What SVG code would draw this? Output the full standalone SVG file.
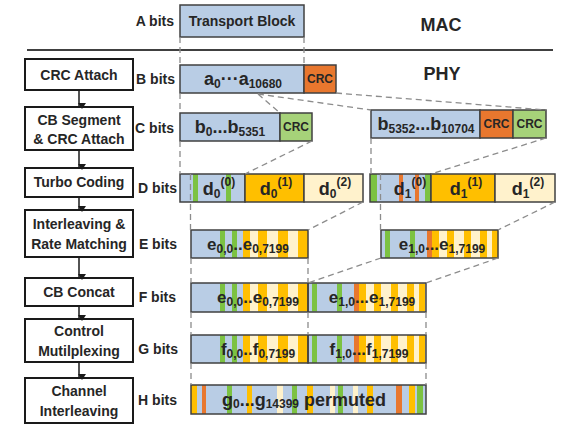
<svg xmlns="http://www.w3.org/2000/svg" xmlns:xlink="http://www.w3.org/1999/xlink" width="562" height="425" viewBox="0 0 562 425">
<style>
text{font-family:"Liberation Sans",Arial,sans-serif;font-weight:bold;fill:#262626}
.lbl{font-size:14px}
.step{font-size:14px;text-anchor:middle}
.big{font-size:18px;text-anchor:middle}
.mid{font-size:17px;text-anchor:middle}
.sub{font-size:12px}
.crc{font-size:12px;text-anchor:middle}
.box{fill:#fff;stroke:#1a1a1a;stroke-width:2}
.bar{stroke:#404040;stroke-width:1.5}
.blue{fill:#b9cde5}
.org{fill:#e8772e}
.grn{fill:#a6d279}
.gold{fill:#ffbf00}
.crm{fill:#fff2cc}
.sg{fill:#7cc242}
.so{fill:#e8772e}
.dash{stroke:#8c8c8c;stroke-width:1.3;stroke-dasharray:6 4;fill:none}
.arr{stroke:#1a1a1a;stroke-width:1.5;fill:none}
</style>
<defs>
<marker id="ah" markerWidth="8" markerHeight="8" refX="4" refY="7" orient="auto" markerUnits="userSpaceOnUse" viewBox="0 0 8 8">
<path d="M0,1 L8,1 L4,7 Z" fill="#1a1a1a" transform="rotate(-90 4 4)"/>
</marker>
<g id="eL">
<rect x="29" y="0" width="5" height="28" class="sg"/>
<rect x="41" y="0" width="5" height="28" class="sg"/>
<rect x="52" y="0" width="7" height="28" class="gold"/>
<rect x="59" y="0" width="8" height="28" class="crm"/>
<rect x="67" y="0" width="9" height="28" class="gold"/>
<rect x="76" y="0" width="11" height="28" class="crm"/>
<rect x="87" y="0" width="10" height="28" class="gold"/>
<rect x="97" y="0" width="10" height="28" class="crm"/>
<rect x="107" y="0" width="10" height="28" class="gold"/>
</g>
<g id="eR">
<rect x="4" y="0" width="5" height="28" class="sg"/>
<rect x="29" y="0" width="5" height="28" class="sg"/>
<rect x="46" y="0" width="5" height="28" class="so"/>
<rect x="51" y="0" width="7" height="28" class="gold"/>
<rect x="58" y="0" width="8" height="28" class="crm"/>
<rect x="66" y="0" width="7" height="28" class="gold"/>
<rect x="73" y="0" width="10" height="28" class="crm"/>
<rect x="83" y="0" width="7" height="28" class="gold"/>
<rect x="90" y="0" width="9" height="28" class="crm"/>
<rect x="99" y="0" width="7" height="28" class="gold"/>
<rect x="106" y="0" width="5" height="28" class="crm"/>
<rect x="111" y="0" width="6" height="28" class="gold"/>
</g>
</defs>
<rect width="562" height="425" fill="#fff"/>

<!-- MAC / PHY -->
<g id="layers">
<line x1="27" y1="50" x2="553" y2="50" stroke="#404040" stroke-width="2"/>
<text x="441" y="31" style="font-size:18px;text-anchor:middle">MAC</text>
<text x="442" y="80" style="font-size:18px;text-anchor:middle">PHY</text>
</g>

<!-- left process steps -->
<g id="step-crc-attach"><rect class="box" x="25" y="59" width="108" height="31"/><text class="step" x="79" y="80">CRC Attach</text></g>
<g id="step-cb-segment"><rect class="box" x="25" y="107" width="108" height="43"/><text class="step" x="79" y="125">CB Segment</text><text class="step" x="79" y="144">&amp; CRC Attach</text></g>
<g id="step-turbo"><rect class="box" x="25" y="168" width="108" height="29"/><text class="step" x="79" y="187">Turbo Coding</text></g>
<g id="step-interleave-rm"><rect class="box" x="25" y="210" width="108" height="47"/><text class="step" x="79" y="229">Interleaving &amp;</text><text class="step" x="79" y="249">Rate Matching</text></g>
<g id="step-cb-concat"><rect class="box" x="25" y="278" width="108" height="28"/><text class="step" x="79" y="297">CB Concat</text></g>
<g id="step-control-mux"><rect class="box" x="25" y="319" width="108" height="43"/><text class="step" x="79" y="336">Control</text><text class="step" x="79" y="356">Mutilplexing</text></g>
<g id="step-channel-interleave"><rect class="box" x="25" y="378" width="108" height="45"/><text class="step" x="79" y="396">Channel</text><text class="step" x="79" y="416">Interleaving</text></g>

<!-- row labels -->
<g id="row-labels">
<text class="lbl" x="174" y="26" text-anchor="end">A bits</text>
<text class="lbl" x="175" y="84" text-anchor="end">B bits</text>
<text class="lbl" x="174" y="133" text-anchor="end">C bits</text>
<text class="lbl" x="177" y="193" text-anchor="end">D bits</text>
<text class="lbl" x="177" y="249" text-anchor="end">E bits</text>
<text class="lbl" x="176" y="302" text-anchor="end">F bits</text>
<text class="lbl" x="178" y="354" text-anchor="end">G bits</text>
<text class="lbl" x="177" y="405" text-anchor="end">H bits</text>
</g>

<!-- A -->
<g id="bar-a"><rect class="bar blue" x="180" y="5" width="124" height="32"/><text class="lbl" x="242" y="26" text-anchor="middle">Transport Block</text></g>

<!-- B -->
<g id="bar-b">
<rect class="bar blue" x="180" y="65" width="124" height="28"/>
<rect class="bar org" x="304" y="65" width="32" height="28"/>
<text class="big" x="243" y="85">a<tspan class="sub" dy="3">0</tspan><tspan dy="-3">···a</tspan><tspan class="sub" dy="3">10680</tspan></text>
<text class="crc" x="320" y="83">CRC</text>
</g>

<!-- C -->
<g id="bar-c0">
<rect class="bar blue" x="180" y="113" width="100" height="28"/>
<rect class="bar grn" x="280" y="113" width="32" height="28"/>
<text class="big" x="230" y="133">b<tspan class="sub" dy="3">0</tspan><tspan dy="-3">...b</tspan><tspan class="sub" dy="3">5351</tspan></text>
<text class="crc" x="296" y="131">CRC</text>
</g>
<g id="bar-c1">
<rect class="bar blue" x="371" y="110" width="109" height="28"/>
<rect class="bar org" x="480" y="110" width="33" height="28"/>
<rect class="bar grn" x="513" y="110" width="33" height="28"/>
<text class="big" x="426" y="130">b<tspan class="sub" dy="3">5352</tspan><tspan dy="-3">...b</tspan><tspan class="sub" dy="3">10704</tspan></text>
<text class="crc" x="496.5" y="128">CRC</text>
<text class="crc" x="529.5" y="128">CRC</text>
</g>

<!-- D -->
<g id="bar-d0">
<rect class="blue" x="180" y="174" width="65" height="28"/>
<rect class="sg" x="193" y="174" width="5" height="28"/>
<rect class="sg" x="226" y="174" width="5" height="28"/>
<rect class="bar" fill="none" x="180" y="174" width="65" height="28"/>
<rect class="bar gold" x="245" y="174" width="59" height="28"/>
<rect class="bar crm" x="304" y="174" width="59" height="28"/>
<text class="big" x="219" y="195">d<tspan class="sub" dy="3">0</tspan><tspan class="sub" dy="-12">(0)</tspan></text>
<text class="big" x="276" y="195">d<tspan class="sub" dy="3">0</tspan><tspan class="sub" dy="-12">(1)</tspan></text>
<text class="big" x="335" y="195">d<tspan class="sub" dy="3">0</tspan><tspan class="sub" dy="-12">(2)</tspan></text>
</g>
<g id="bar-d1">
<rect class="blue" x="370" y="174" width="61" height="28"/>
<rect class="sg" x="370" y="174" width="7" height="28"/>
<rect class="so" x="399" y="174" width="4" height="28"/>
<rect class="so" x="415" y="174" width="4" height="28"/>
<rect class="sg" x="425" y="174" width="6" height="28"/>
<rect class="bar" fill="none" x="370" y="174" width="61" height="28"/>
<rect class="bar gold" x="431" y="174" width="64" height="28"/>
<rect class="bar crm" x="495" y="174" width="60" height="28"/>
<text class="big" x="410" y="195">d<tspan class="sub" dy="3">1</tspan><tspan class="sub" dy="-12">(0)</tspan></text>
<text class="big" x="466" y="195">d<tspan class="sub" dy="3">1</tspan><tspan class="sub" dy="-12">(1)</tspan></text>
<text class="big" x="528" y="195">d<tspan class="sub" dy="3">1</tspan><tspan class="sub" dy="-12">(2)</tspan></text>
</g>

<!-- E -->
<g id="bar-e0">
<rect class="blue" x="191" y="230" width="117" height="28"/>
<use xlink:href="#eL" x="191" y="230"/>
<rect class="bar" fill="none" x="191" y="230" width="117" height="28"/>
<text class="mid" x="248" y="250">e<tspan class="sub" dy="3">0,0</tspan><tspan dy="-3">..e</tspan><tspan class="sub" dy="3">0,7199</tspan></text>
</g>
<g id="bar-e1">
<rect class="blue" x="381" y="230" width="117" height="28"/>
<use xlink:href="#eR" x="381" y="230"/>
<rect class="bar" fill="none" x="381" y="230" width="117" height="28"/>
<text class="mid" x="442" y="250">e<tspan class="sub" dy="3">1,0</tspan><tspan dy="-3">...e</tspan><tspan class="sub" dy="3">1,7199</tspan></text>
</g>

<!-- F -->
<g id="bar-f">
<rect class="blue" x="191" y="283" width="235" height="29"/>
<use xlink:href="#eL" x="191" y="283.5"/>
<use xlink:href="#eR" x="308" y="283.5"/>
<rect class="bar" fill="none" x="191" y="283" width="117" height="29"/>
<rect class="bar" fill="none" x="308" y="283" width="118" height="29"/>
<text class="mid" x="258" y="303">e<tspan class="sub" dy="3">0,0</tspan><tspan dy="-3">..e</tspan><tspan class="sub" dy="3">0,7199</tspan></text>
<text class="mid" x="372" y="303">e<tspan class="sub" dy="3">1,0</tspan><tspan dy="-3">...e</tspan><tspan class="sub" dy="3">1,7199</tspan></text>
</g>

<!-- G -->
<g id="bar-g">
<rect class="blue" x="191" y="335" width="235" height="28"/>
<use xlink:href="#eL" x="191" y="335"/>
<use xlink:href="#eR" x="308" y="335"/>
<rect class="bar" fill="none" x="191" y="335" width="117" height="28"/>
<rect class="bar" fill="none" x="308" y="335" width="118" height="28"/>
<text class="mid" x="258" y="355">f<tspan class="sub" dy="3">0,0</tspan><tspan dy="-3">..f</tspan><tspan class="sub" dy="3">0,7199</tspan></text>
<text class="mid" x="369" y="355">f<tspan class="sub" dy="3">1,0</tspan><tspan dy="-3">...f</tspan><tspan class="sub" dy="3">1,7199</tspan></text>
</g>

<!-- H -->
<g id="bar-h">
<rect class="blue" x="191" y="385" width="235" height="29"/>
<rect class="gold" x="191" y="385" width="6" height="29"/>
<rect class="so" x="202" y="385" width="4" height="29"/>
<rect class="sg" x="227" y="385" width="5" height="29"/>
<rect class="gold" x="247" y="385" width="5" height="29"/>
<rect class="crm" x="277" y="385" width="6" height="29"/>
<rect class="sg" x="292" y="385" width="5" height="29"/>
<rect class="gold" x="307" y="385" width="6" height="29"/>
<rect class="crm" x="330" y="385" width="5" height="29"/>
<rect class="sg" x="338" y="385" width="5" height="29"/>
<rect class="crm" x="353" y="385" width="5" height="29"/>
<rect class="gold" x="367" y="385" width="6" height="29"/>
<rect class="so" x="396" y="385" width="6" height="29"/>
<rect class="gold" x="409" y="385" width="6" height="29"/>
<rect class="sg" x="417" y="385" width="6" height="29"/>
<rect class="bar" fill="none" x="191" y="385" width="235" height="29"/>
<text x="304" y="406" style="font-size:18px;text-anchor:middle">g<tspan class="sub" dy="2">0</tspan><tspan dy="-2">...g</tspan><tspan class="sub" dy="2">14399</tspan><tspan dy="-2"> permuted</tspan></text>
</g>

<!-- connectors -->
<g id="connectors">
<line class="arr" x1="79" y1="91" x2="79" y2="106" marker-end="url(#ah)"/>
<line class="arr" x1="79" y1="151" x2="79" y2="167" marker-end="url(#ah)"/>
<line class="arr" x1="79" y1="198" x2="79" y2="209" marker-end="url(#ah)"/>
<line class="arr" x1="79" y1="258" x2="79" y2="277" marker-end="url(#ah)"/>
<line class="arr" x1="79" y1="307" x2="79" y2="318" marker-end="url(#ah)"/>
<line class="arr" x1="79" y1="363" x2="79" y2="377" marker-end="url(#ah)"/>

<line class="dash" x1="180" y1="37" x2="180" y2="65"/>
<line class="dash" x1="304" y1="37" x2="304" y2="65"/>
<line class="dash" x1="180" y1="93" x2="180" y2="113"/>
<line class="dash" x1="258" y1="94" x2="280" y2="113"/>
<line class="dash" x1="258" y1="94" x2="371" y2="110"/>
<line class="dash" x1="336" y1="93" x2="546" y2="110"/>
<line class="dash" x1="180" y1="141" x2="180" y2="174"/>
<line class="dash" x1="190.5" y1="174" x2="190.5" y2="230"/>
<line class="dash" x1="312" y1="141" x2="245" y2="174"/>
<line class="dash" x1="371" y1="138" x2="371" y2="174"/>
<line class="dash" x1="546" y1="138" x2="431" y2="174"/>
<line class="dash" x1="380.5" y1="174" x2="380.5" y2="230"/>
<line class="dash" x1="363" y1="202" x2="308" y2="230"/>
<line class="dash" x1="555" y1="202" x2="498" y2="230"/>
<line class="dash" x1="191" y1="258" x2="191" y2="283"/>
<line class="dash" x1="308" y1="258" x2="308" y2="283"/>
<line class="dash" x1="381" y1="258" x2="308" y2="283"/>
<line class="dash" x1="498" y1="258" x2="426" y2="283"/>
<line class="dash" x1="191" y1="312" x2="191" y2="335"/>
<line class="dash" x1="308" y1="312" x2="308" y2="335"/>
<line class="dash" x1="426" y1="312" x2="426" y2="335"/>
<line class="dash" x1="191" y1="363" x2="191" y2="385"/>
<line class="dash" x1="426" y1="363" x2="426" y2="385"/>
</g>
</svg>
